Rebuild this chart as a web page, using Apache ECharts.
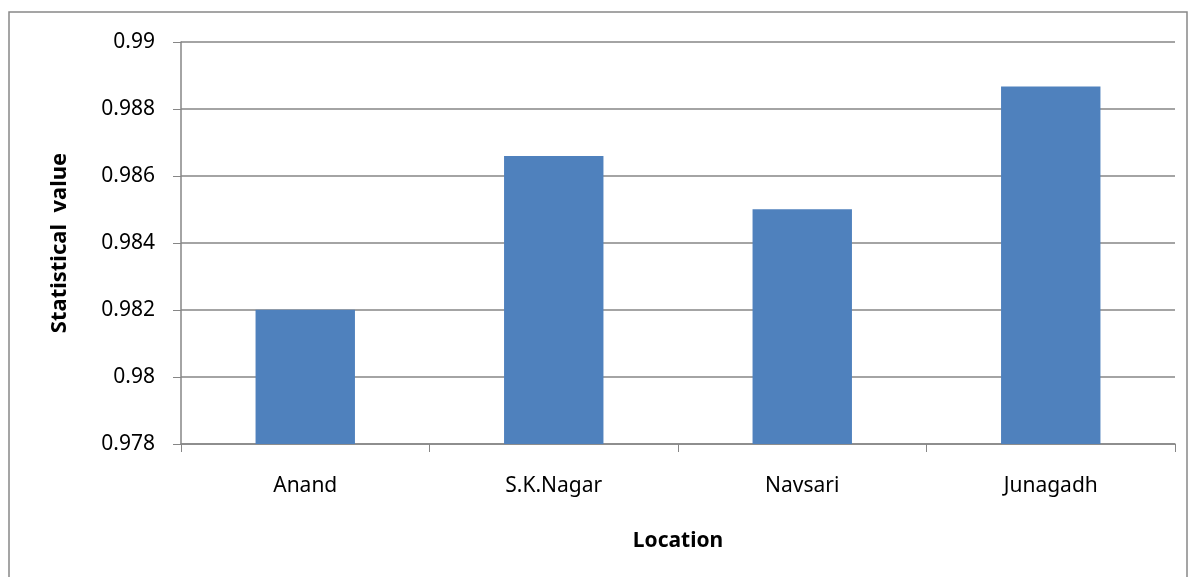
<!DOCTYPE html>
<html>
<head>
<meta charset="utf-8">
<script src="https://cdn.jsdelivr.net/npm/echarts@6/dist/echarts.min.js"></script>
<style>
html, body { margin: 0; padding: 0; background: #fff; }
#chart { width: 1192px; height: 577px; }
</style>
</head>
<body>
<div id="chart"></div>
<script>
// locations and their statistical values
let locations = ['Anand', 'S.K.Nagar', 'Navsari', 'Junagadh'];
let statValues = [0.98201, 0.9866, 0.98501, 0.98867];

let myChart = echarts.init(document.getElementById('chart'));
let fontName = 'Noto Sans';

let option = {
    animation: false,
    textStyle: { fontFamily: fontName },
    graphic: [
        {
            type: 'rect',
            shape: { x: 9, y: 12, width: 1178, height: 600 },
            style: { fill: 'none', stroke: '#888', lineWidth: 1.5 }
        }
    ],
    grid: {
        left: 181,
        right: 17,
        top: 42,
        bottom: 133
    },
    xAxis: {
        type: 'category',
        data: locations,
        name: 'Location',
        nameLocation: 'middle',
        nameGap: 87,
        nameTextStyle: { fontSize: 21, fontWeight: 'bold', color: '#000', fontFamily: fontName },
        axisLine: { lineStyle: { color: '#868686', width: 1.5 } },
        axisTick: { show: true, length: 8, lineStyle: { color: '#868686' } },
        axisLabel: { fontSize: 21, color: '#000', margin: 32, fontFamily: fontName }
    },
    yAxis: {
        type: 'value',
        min: 0.978,
        max: 0.99,
        interval: 0.002,
        name: 'Statistical  value',
        nameLocation: 'middle',
        nameGap: 110,
        nameTextStyle: { fontSize: 22, fontWeight: 'bold', color: '#000', fontFamily: fontName },
        axisLine: { show: true, lineStyle: { color: '#868686', width: 1.5 } },
        axisTick: { show: true, length: 8, lineStyle: { color: '#868686' } },
        axisLabel: { fontSize: 21, color: '#000', margin: 26, fontFamily: fontName },
        splitLine: { lineStyle: { color: '#868686', width: 1.5 } }
    },
    series: [
        {
            type: 'bar',
            data: statValues,
            barCategoryGap: '60%',
            itemStyle: { color: '#4F81BD' }
        }
    ]
};

myChart.setOption(option);
</script>
</body>
</html>
